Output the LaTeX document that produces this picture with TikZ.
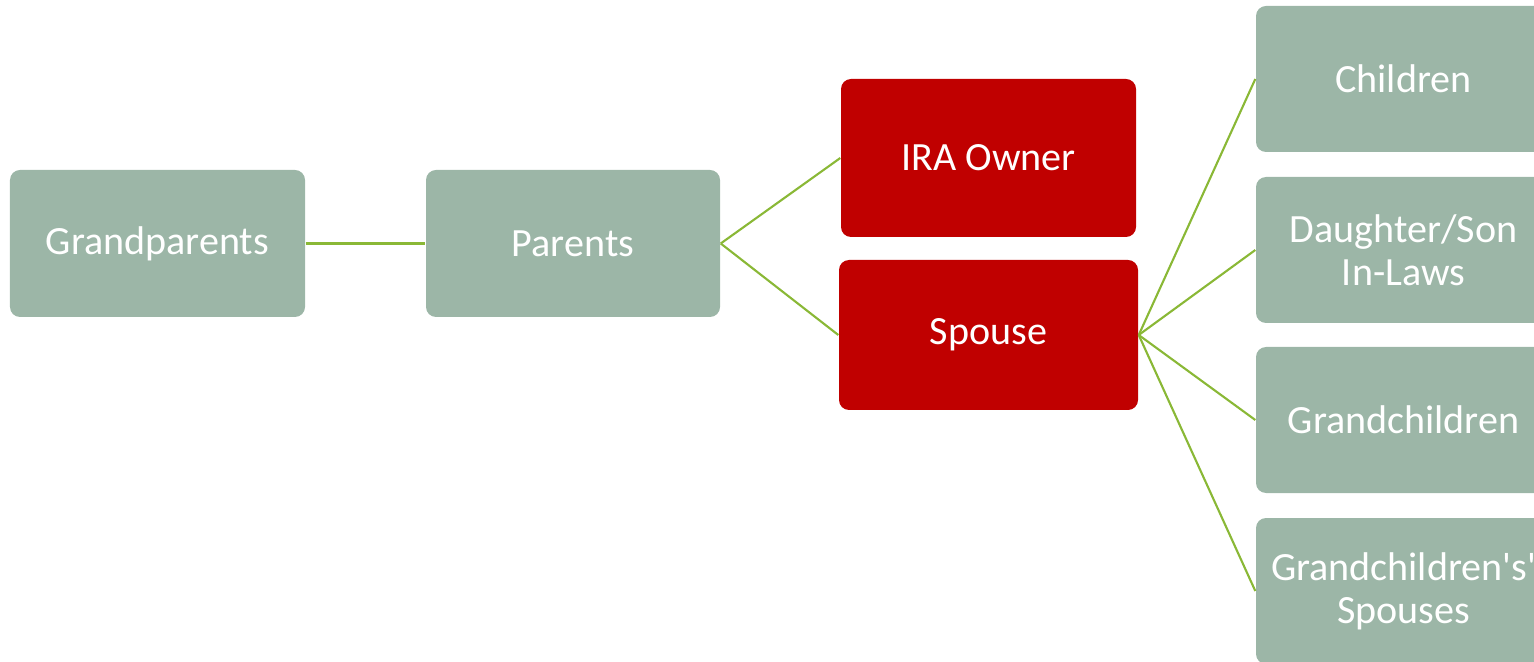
\documentclass[tikz,border=0pt]{standalone}
\usepackage{fontspec}
\setmainfont{Carlito}
\usepackage{tikz}
\usetikzlibrary{positioning}
\definecolor{sagegreen}{RGB}{156,182,167}
\definecolor{ownerred}{RGB}{192,0,0}
\definecolor{linkgreen}{RGB}{138,184,54}

\begin{document}
\begin{tikzpicture}[
    every node/.style={font=\fontsize{11.4}{12.3}\selectfont, text=white, align=center},
    member/.style={fill=sagegreen, rounded corners=0.1cm, inner sep=0pt,
        minimum width=2.95cm, minimum height=1.47cm},
    ownerbox/.style={member, fill=ownerred},
    link/.style={linkgreen, line width=0.6pt},
]
    \useasboundingbox (0,0) rectangle (15.34,-6.62);

    % Older generations
    \node[member] (gparents) at (1.575,-2.435) {Grandparents};
    \node[member, minimum width=2.94cm] (parents) at (5.73,-2.435) {Parents};

    % Owner and spouse
    \node[ownerbox, minimum height=1.58cm] (owner) at (9.885,-1.58) {IRA Owner};
    \node[ownerbox, minimum width=2.99cm, minimum height=1.5cm] (spouse) at (9.885,-3.35) {Spouse};

    % Younger generations
    \node[member, minimum height=1.46cm] (children) at (14.035,-0.79) {Children};
    \node[member, minimum height=1.46cm] (inlaws) at (14.035,-2.5) {Daughter/Son\\In-Laws};
    \node[member, minimum height=1.46cm] (gchildren) at (14.035,-4.2) {Grandchildren};
    \node[member, minimum height=1.46cm] (gspouses) at (14.035,-5.91)
        {Grandchildren\textquotesingle s\textquotesingle\\Spouses};

    % Connectors
    \draw[link] (gparents.east) -- (parents.west);
    \draw[link] (parents.east) -- (owner.west);
    \draw[link] (parents.east) -- (spouse.west);
    \foreach \kin in {children, inlaws, gchildren, gspouses}
        \draw[link] (spouse.east) -- (\kin.west);
\end{tikzpicture}
\end{document}
